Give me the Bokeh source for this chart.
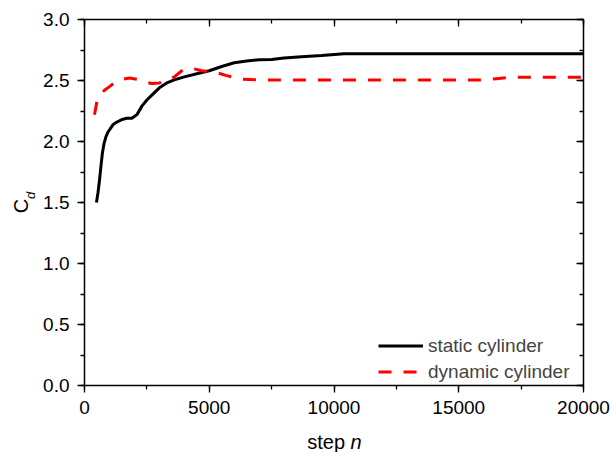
import numpy as np
from bokeh.plotting import figure
from bokeh.models import (Range1d, LinearAxis, SingleIntervalTicker, PrintfTickFormatter,
                          Legend, LegendItem, Label)
from bokeh.embed import file_html
from bokeh.resources import INLINE

# ---- data ----
static_n = [480, 540, 600, 660, 720, 780, 860, 950, 1050, 1150, 1300, 1500, 1700, 1900,
            2100, 2300, 2500, 2750, 3000, 3300, 3600, 4000, 4500, 5000, 5500, 6000,
            6500, 7000, 7500, 8000, 8700, 9500, 10400, 12000, 15000, 18000, 20000]
static_cd = [1.50, 1.58, 1.68, 1.80, 1.91, 1.98, 2.04, 2.08, 2.11, 2.14, 2.16, 2.18, 2.19, 2.19,
             2.22, 2.29, 2.34, 2.39, 2.44, 2.48, 2.505, 2.53, 2.555, 2.58, 2.615, 2.645,
             2.66, 2.67, 2.672, 2.685, 2.695, 2.705, 2.72, 2.72, 2.72, 2.72, 2.72]

dynamic_n = [400, 500, 650, 800, 1000, 1250, 1500, 1800, 2100, 2400, 2700, 3000, 3300, 3600,
             3900, 4100, 4400, 4700, 5200, 5700, 6300, 7000, 8000, 10000, 12000, 14000,
             16000, 16500, 17000, 18000, 20000]
dynamic_cd = [2.22, 2.33, 2.39, 2.42, 2.45, 2.49, 2.51, 2.52, 2.51, 2.49, 2.475, 2.48, 2.50, 2.53,
              2.58, 2.60, 2.595, 2.58, 2.57, 2.54, 2.51, 2.505, 2.505, 2.505, 2.505, 2.505,
              2.505, 2.515, 2.525, 2.527, 2.527]

x_lim = (0, 20000)
y_lim = (0, 3)
x_tick_interval = 5000
y_tick_interval = 0.5
x_label_main, x_label_var = "step", "n"
y_label_main, y_label_sub = "C", "d"
series_labels = ["static cylinder", "dynamic cylinder"]

# ---- layout (pixels) ----
W, H = 613, 452
BOX_L, BOX_R, BOX_T, BOX_B = 84, 583, 19, 385   # plot box edges in canvas pixels

xs = (x_lim[1] - x_lim[0]) / (BOX_R - BOX_L)
ys = (y_lim[1] - y_lim[0]) / (BOX_B - BOX_T)
x_range = Range1d(x_lim[0] - BOX_L * xs, x_lim[1] + (W - BOX_R) * xs)
y_range = Range1d(y_lim[0] - (H - BOX_B) * ys, y_lim[1] + BOX_T * ys)

FONT = "Liberation Sans"
FS = "19px"

p = figure(width=W, height=H, output_backend="svg", toolbar_location=None,
           x_range=x_range, y_range=y_range,
           x_axis_location=None, y_axis_location=None,
           min_border=0, min_border_left=0, min_border_right=0,
           min_border_top=0, min_border_bottom=0)
p.grid.visible = False
p.outline_line_color = None
p.background_fill_color = "white"
p.border_fill_color = "white"


def style(ax, outward, labels):
    ax.axis_line_color = "black"
    ax.axis_line_width = 1.5
    ax.major_tick_line_color = "black"
    ax.minor_tick_line_color = "black"
    ax.major_tick_line_width = 1.3
    ax.minor_tick_line_width = 1.3
    if outward:
        ax.major_tick_out, ax.major_tick_in = 7, 0
        ax.minor_tick_out, ax.minor_tick_in = 4, 0
    else:
        ax.major_tick_out, ax.major_tick_in = 0, 7
        ax.minor_tick_out, ax.minor_tick_in = 0, 4
    if labels:
        ax.major_label_text_font = FONT
        ax.major_label_text_font_size = FS
        ax.major_label_text_color = "black"
    else:
        ax.major_label_text_font_size = "0px"
        ax.major_label_text_color = None
        ax.major_label_standoff = 0


xb = LinearAxis(ticker=SingleIntervalTicker(interval=x_tick_interval, num_minor_ticks=2),
                formatter=PrintfTickFormatter(format="%d"),
                fixed_location=y_lim[0], bounds=x_lim)
style(xb, True, True)
xb.major_label_standoff = 8
p.add_layout(xb, "below")

xt = LinearAxis(ticker=SingleIntervalTicker(interval=x_tick_interval, num_minor_ticks=2),
                fixed_location=y_lim[1], bounds=x_lim)
style(xt, False, False)
p.add_layout(xt, "above")

yl = LinearAxis(ticker=SingleIntervalTicker(interval=y_tick_interval, num_minor_ticks=2),
                formatter=PrintfTickFormatter(format="%.1f"),
                fixed_location=x_lim[0], bounds=y_lim)
style(yl, True, True)
yl.major_label_standoff = 8
p.add_layout(yl, "left")

yr = LinearAxis(ticker=SingleIntervalTicker(interval=y_tick_interval, num_minor_ticks=2),
                fixed_location=x_lim[1], bounds=y_lim)
style(yr, False, False)
p.add_layout(yr, "right")

r1 = p.line(static_n, static_cd, line_color="black", line_width=3)
r2 = p.line(dynamic_n, dynamic_cd, line_color="#ff0000", line_width=3, line_dash="13 12")

legend = Legend(items=[LegendItem(label=series_labels[0], renderers=[r1]),
                       LegendItem(label=series_labels[1], renderers=[r2])],
                location=(378, 69), border_line_color=None, background_fill_alpha=0,
                padding=0, margin=0, spacing=3, glyph_width=45, glyph_height=23,
                label_height=23, label_standoff=5,
                label_text_font=FONT, label_text_font_size=FS)
p.add_layout(legend, "center")

# axis titles (placed relative to the plot box)
xmid = (x_lim[0] + x_lim[1]) / 2
p.add_layout(Label(x=xmid, y=y_lim[0], x_offset=11, y_offset=-56, text=x_label_main,
                   text_align="right", text_baseline="middle", text_font=FONT,
                   text_font_size="20px", text_color="black"))
p.add_layout(Label(x=xmid, y=y_lim[0], x_offset=16.5, y_offset=-56, text=x_label_var,
                   text_align="left", text_baseline="middle", text_font=FONT,
                   text_font_size="20px", text_font_style="italic", text_color="black"))
ymid = (y_lim[0] + y_lim[1]) / 2
p.add_layout(Label(x=x_lim[0], y=ymid, x_offset=-64, y_offset=-3.5, text=y_label_main,
                   angle=np.pi / 2, text_align="center", text_baseline="middle",
                   text_font=FONT, text_font_size="20px", text_color="black"))
p.add_layout(Label(x=x_lim[0], y=ymid, x_offset=-54, y_offset=7, text=y_label_sub,
                   angle=np.pi / 2, text_align="center", text_baseline="middle",
                   text_font=FONT, text_font_size="13px", text_font_style="italic",
                   text_color="black"))

open("out.html", "w").write(file_html(p, INLINE))
